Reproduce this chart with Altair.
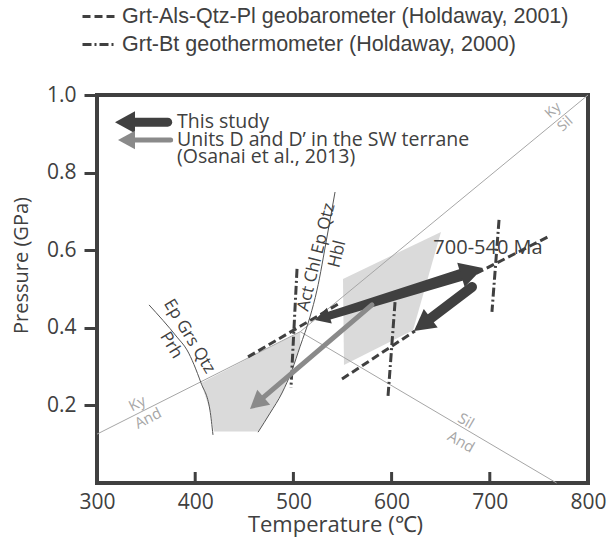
import math
import altair as alt
import pandas as pd

# ---------------- data (T in °C, P in GPa) ----------------
W, H = 491, 388
T_DOMAIN = [300, 800]
P_DOMAIN = [0.0, 1.0]
x_ticks = [300, 400, 500, 600, 700, 800]
y_ticks = [0.2, 0.4, 0.6, 0.8, 1.0]
inner_ticks = [400, 500, 600, 700]

# aluminosilicate boundaries
ky_and_T = [300, 507];   ky_and_P = [0.126, 0.39]
ky_sil_T = [507, 800];   ky_sil_P = [0.39, 1.0]
sil_and_T = [507, 768];  sil_and_P = [0.39, 0.0]

# reaction curves
egq_T = [353, 381.5, 391.6, 405.9, 415.0, 418.1]
egq_P = [0.459, 0.376, 0.343, 0.258, 0.188, 0.124]
hbl_T = [542.4, 534.2, 524.0, 516.9, 506.7, 498.6, 488.4, 476.2, 464.0]
hbl_P = [0.750, 0.634, 0.497, 0.428, 0.351, 0.291, 0.232, 0.180, 0.131]

# shaded fields
field1_T = [405.9, 507, 506.7, 498.6, 488.4, 476.2, 464.0, 419.0, 415.0]
field1_P = [0.258, 0.39, 0.351, 0.291, 0.232, 0.180, 0.133, 0.133, 0.188]
field2_T = [550.5, 650.3, 621.8, 551.5]
field2_P = [0.526, 0.647, 0.394, 0.304]

# geobarometer / geothermometer segments
baro_T = [[453.8, 547.5], [686, 759], [549.5, 623.8]]
baro_P = [[0.325, 0.464], [0.540, 0.634], [0.268, 0.392]]
thermo_T = [[503.7, 497.5], [603.5, 596.3], [709.4, 702.2]]
thermo_P = [[0.552, 0.245], [0.466, 0.222], [0.678, 0.441]]

# P-T path arrows (tail -> tip)
this_study_T = [[522, 693], [681.9, 622.8]]
this_study_P = [[0.420, 0.554], [0.505, 0.392]]
units_D_T = [580, 455.8]
units_D_P = [0.459, 0.191]

# key arrows (tail -> tip)
key_dark_T = [372.0, 318.3]; key_dark_P = [0.930, 0.930]
key_gray_T = [375.0, 321.4]; key_gray_P = [0.884, 0.884]

BARO = "Grt-Als-Qtz-Pl geobarometer (Holdaway, 2001)"
THERMO = "Grt-Bt geothermometer (Holdaway, 2000)"

DARK = "#404040"
GRAY_ARROW = "#8a8a8a"
LIGHT = "#a6a6a6"
FILL = "#dadada"

# ---------------- helpers ----------------
def to_px(T, P):
    return ((T - T_DOMAIN[0]) / (T_DOMAIN[1] - T_DOMAIN[0]) * W,
            (P_DOMAIN[1] - P) / (P_DOMAIN[1] - P_DOMAIN[0]) * H)

def to_data(x, y):
    return (T_DOMAIN[0] + x / W * (T_DOMAIN[1] - T_DOMAIN[0]),
            P_DOMAIN[1] - y / H * (P_DOMAIN[1] - P_DOMAIN[0]))

shaft_rows, head_rows = [], []

def add_arrow(aid, T0, P0, T1, P1, w0, w1, color, head1, head0=None):
    x0, y0 = to_px(T0, P0)
    x1, y1 = to_px(T1, P1)
    L = math.hypot(x1 - x0, y1 - y0)
    ux, uy = (x1 - x0) / L, (y1 - y0) / L
    bx, by = x1 - ux * head1, y1 - uy * head1
    ang = math.degrees(math.atan2(ux, -uy)) % 360
    head_rows.append(dict(T=T1, P=P1, ang=ang, sz=(2 * head1) ** 2, c=color))
    sx, sy = x0, y0
    if head0:
        sx, sy = x0 + ux * head0, y0 + uy * head0
        ang0 = math.degrees(math.atan2(-ux, uy)) % 360
        head_rows.append(dict(T=T0, P=P0, ang=ang0, sz=(2 * head0) ** 2, c=color))
    st, sp = to_data(sx, sy)
    et, ep = to_data(bx + ux * 1.5, by + uy * 1.5)
    shaft_rows.append(dict(id=aid, o=0, T=st, P=sp, w=w0, c=color))
    shaft_rows.append(dict(id=aid, o=1, T=et, P=ep, w=w1, c=color))

add_arrow("a1", this_study_T[0][0], this_study_P[0][0], this_study_T[0][1], this_study_P[0][1],
          8, 12, DARK, 23, head0=15)
add_arrow("a2", this_study_T[1][0], this_study_P[1][0], this_study_T[1][1], this_study_P[1][1],
          10, 10, DARK, 21)
add_arrow("a3", units_D_T[0], units_D_P[0], units_D_T[1], units_D_P[1], 5, 5, GRAY_ARROW, 18)
add_arrow("k1", key_dark_T[0], key_dark_P[0], key_dark_T[1], key_dark_P[1], 9, 9, DARK, 20)
add_arrow("k2", key_gray_T[0], key_gray_P[0], key_gray_T[1], key_gray_P[1], 5, 5, GRAY_ARROW, 17)

shafts = pd.DataFrame(shaft_rows)
heads = pd.DataFrame(head_rows)

# ---------------- tables ----------------
def line_df(name, Ts, Ps):
    return pd.DataFrame({"id": name, "o": range(len(Ts)), "T": Ts, "P": Ps})

bounds = pd.concat([line_df("ka", ky_and_T, ky_and_P),
                    line_df("ks", ky_sil_T, ky_sil_P),
                    line_df("sa", sil_and_T, sil_and_P)])
curves = pd.concat([line_df("egq", egq_T, egq_P), line_df("hbl", hbl_T, hbl_P)])
fields = pd.concat([line_df("f1", field1_T, field1_P), line_df("f2", field2_T, field2_P)])

rows = []
for i, (ts, ps) in enumerate(zip(baro_T, baro_P)):
    for j, (t, p) in enumerate(zip(ts, ps)):
        rows.append(dict(id=f"b{i}", o=j, T=t, P=p, kind=BARO))
for i, (ts, ps) in enumerate(zip(thermo_T, thermo_P)):
    for j, (t, p) in enumerate(zip(ts, ps)):
        rows.append(dict(id=f"t{i}", o=j, T=t, P=p, kind=THERMO))
geo = pd.DataFrame(rows)

labels_left = pd.DataFrame([
    dict(t="This study", T=381.5, P=0.931),
    dict(t="Units D and D\u2019 in the SW terrane", T=381.5, P=0.885),
    dict(t="(Osanai et al., 2013)", T=381.5, P=0.839),
])
labels_center = pd.DataFrame([
    dict(t="700-540 Ma", T=698.2, P=0.606, a=0, s=20, c=DARK),
    dict(t="Ky", T=764.5, P=0.960, a=318, s=14, c=LIGHT),
    dict(t="Sil", T=777.0, P=0.925, a=318, s=14, c=LIGHT),
    dict(t="Ky", T=341.0, P=0.205, a=333, s=15, c=LIGHT),
    dict(t="And", T=352.0, P=0.167, a=333, s=15, c=LIGHT),
    dict(t="Sil", T=675.8, P=0.160, a=30, s=15, c=LIGHT),
    dict(t="And", T=670.7, P=0.106, a=30, s=15, c=LIGHT),
    dict(t="Ep Grs Qtz", T=394.0, P=0.378, a=59, s=17, c=DARK),
    dict(t="Prh", T=375.5, P=0.355, a=59, s=17, c=DARK),
    dict(t="Act Chl Ep Qtz", T=523.5, P=0.582, a=284, s=17, c=DARK),
    dict(t="Hbl", T=544.8, P=0.590, a=284, s=17, c=DARK),
])
ticks_df = pd.DataFrame({"T": inner_ticks})

# ---------------- encodings ----------------
xs = alt.Scale(domain=T_DOMAIN, nice=False, zero=False)
ys = alt.Scale(domain=P_DOMAIN, nice=False, zero=False)
X = alt.X("T:Q", scale=xs, axis=alt.Axis(
    values=x_ticks, tickSize=0, domain=False, grid=False, labelFlush=False,
    labelFontSize=21, labelPadding=8, labelColor=DARK, labelFont="Open Sans",
    title="Temperature (\u2103)", titleFontSize=22, titleFont="Open Sans",
    titleFontWeight="normal", titleColor=DARK, titleX=238, titleY=41,
    titleBaseline="middle"))
Y = alt.Y("P:Q", scale=ys, axis=alt.Axis(
    values=y_ticks, format=".1f", tickSize=13, tickWidth=3, tickColor=DARK,
    domain=False, grid=False, labelFlush=False, labelFontSize=21, labelPadding=8,
    labelColor=DARK, labelFont="Open Sans",
    title="Pressure (GPa)", titleFontSize=20, titleFont="Open Sans",
    titleFontWeight="normal", titleColor=DARK, titleX=-76, titleY=170,
    titleAngle=270, titleBaseline="middle", titleAlign="center"))
Xp = alt.X("T:Q", scale=xs)
Yp = alt.Y("P:Q", scale=ys)

field_layer = alt.Chart(fields).mark_line(fill=FILL, strokeWidth=0).encode(
    x=X, y=Y, detail="id:N", order="o:Q")

bound_layer = alt.Chart(bounds).mark_line(color=LIGHT, strokeWidth=1).encode(
    x=Xp, y=Yp, detail="id:N", order="o:Q")
curve_layer = alt.Chart(curves).mark_line(color="#555555", strokeWidth=1, interpolate="monotone").encode(
    x=Xp, y=Yp, detail="id:N", order="o:Q")

geo_layer = alt.Chart(geo).mark_line(color=DARK, strokeWidth=3).encode(
    x=Xp, y=Yp, detail="id:N", order="o:Q",
    strokeDash=alt.StrokeDash("kind:N", scale=alt.Scale(domain=[BARO, THERMO],
                                                        range=[[8, 4], [9, 3, 2, 3]]),
                              legend=alt.Legend(orient="none", legendX=-16, legendY=-96,
                                                title=None, symbolType="stroke",
                                                symbolSize=1024, symbolStrokeWidth=3,
                                                symbolStrokeColor=DARK,
                                                labelFont="Liberation Sans", labelFontSize=21.5,
                                                labelColor=DARK, labelLimit=0, labelOffset=6,
                                                rowPadding=-4)))

shaft_layer = alt.Chart(shafts).mark_trail().encode(
    x=Xp, y=Yp, detail="id:N", order="o:Q",
    size=alt.Size("w:Q", scale=None), color=alt.Color("c:N", scale=None))
head_layer = alt.Chart(heads).mark_point(shape="M0,0L-0.55,1L0.55,1Z", filled=True, opacity=1,
                                         strokeWidth=0).encode(
    x=Xp, y=Yp, angle=alt.Angle("ang:Q", scale=None),
    size=alt.Size("sz:Q", scale=None), color=alt.Color("c:N", scale=None))

tick_layer = alt.Chart(ticks_df).mark_rule(color=DARK, strokeWidth=3).encode(
    x=Xp, y=alt.value(H), y2=alt.value(H - 11))

text_left = alt.Chart(labels_left).mark_text(align="left", baseline="middle", font="Open Sans",
                                             fontSize=19.5, color=DARK).encode(
    x=Xp, y=Yp, text="t:N")
text_center = alt.Chart(labels_center).mark_text(align="center", baseline="middle",
                                                 font="Open Sans").encode(
    x=Xp, y=Yp, text="t:N", angle=alt.Angle("a:Q", scale=None),
    size=alt.Size("s:Q", scale=None), color=alt.Color("c:N", scale=None))

chart = alt.layer(field_layer, bound_layer, curve_layer, geo_layer, shaft_layer, head_layer,
                  tick_layer, text_left, text_center).properties(
    width=W, height=H,
    padding={"left": 97, "top": 95, "right": 20, "bottom": 58},
    autosize=alt.AutoSizeParams(type="none"),
    background="white",
).configure_view(stroke=DARK, strokeWidth=4)

chart.save("out.html", embed_options={"renderer": "svg", "actions": False})
